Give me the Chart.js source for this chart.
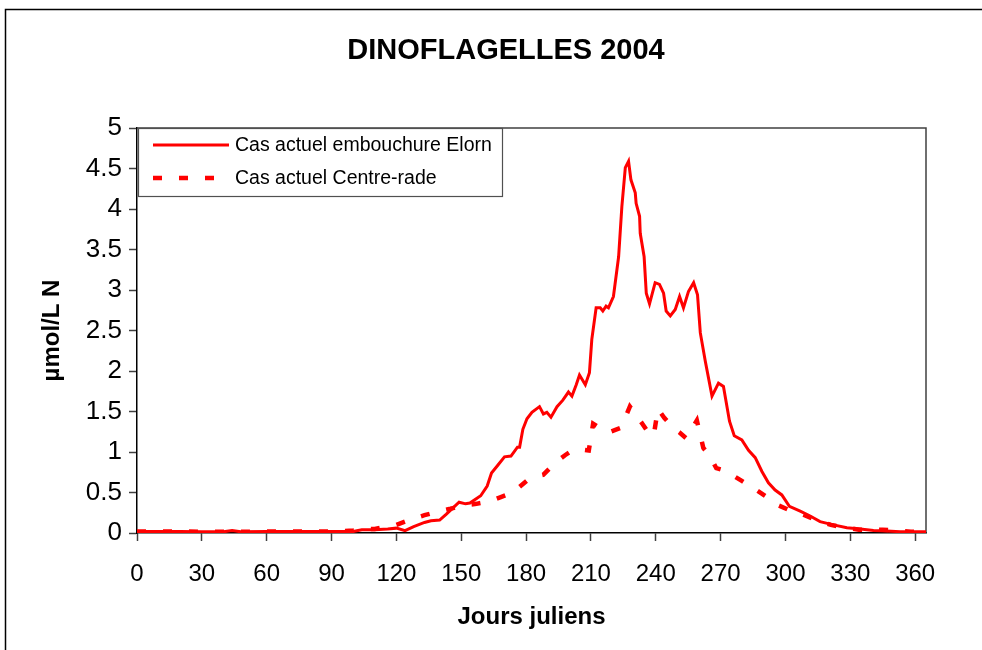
<!DOCTYPE html>
<html>
<head>
<meta charset="utf-8">
<script src="https://cdn.jsdelivr.net/npm/chart.js@4.4.1/dist/chart.umd.min.js"></script>
<style>
  html, body { margin: 0; padding: 0; background: #ffffff; }
  #wrap { position: relative; width: 982px; height: 650px; }
  canvas { display: block; }
</style>
</head>
<body>
<div id="wrap"><canvas id="c" width="982" height="650"></canvas></div>
<script>
// ---- data ----
const chartTitle = "DINOFLAGELLES 2004";
const xAxisTitle = "Jours juliens";
const yAxisTitle = "µmol/L N";
const seriesNames = ["Cas actuel embouchure Elorn", "Cas actuel Centre-rade"];

const elornDays = [0, 10, 20, 30, 40, 44, 48, 60, 70, 80, 90, 100, 104, 110, 116, 120, 124, 128, 133, 136, 140, 143, 149, 152, 154, 159, 162, 164, 167, 170, 173, 176, 177, 178.5, 180.4, 182.7, 186.2, 188, 189.6, 191.5, 194.3, 197, 199.6, 201.2, 203.2, 204.7, 207.4, 209.3, 210.4, 212.4, 214.3, 215.5, 217, 218.1, 220.4, 222.8, 224.3, 225.9, 227.4, 228.5, 230.5, 230.9, 232.5, 232.8, 234.6, 235.6, 237.1, 239.7, 241.7, 243.6, 244.8, 246.7, 249, 251, 252.8, 255.1, 257.5, 259.3, 260.6, 262.9, 266, 269, 271.3, 274.1, 276.3, 279.8, 282.9, 286, 289.1, 292.1, 295.2, 298.3, 301.8, 306.8, 311.4, 316, 322.2, 328.4, 334.6, 340.7, 346.9, 353, 365];
const elornValues = [0.02, 0.02, 0.02, 0.015, 0.015, 0.03, 0.015, 0.02, 0.02, 0.02, 0.02, 0.02, 0.04, 0.04, 0.05, 0.06, 0.03, 0.08, 0.13, 0.15, 0.16, 0.23, 0.38, 0.36, 0.37, 0.46, 0.58, 0.74, 0.84, 0.94, 0.95, 1.06, 1.06, 1.28, 1.41, 1.49, 1.56, 1.47, 1.49, 1.43, 1.56, 1.64, 1.74, 1.69, 1.83, 1.95, 1.83, 1.98, 2.39, 2.78, 2.78, 2.74, 2.80, 2.78, 2.92, 3.41, 4.03, 4.51, 4.59, 4.36, 4.20, 4.07, 3.91, 3.70, 3.41, 2.96, 2.83, 3.09, 3.07, 2.96, 2.74, 2.68, 2.76, 2.92, 2.78, 2.98, 3.09, 2.94, 2.47, 2.12, 1.69, 1.85, 1.81, 1.38, 1.20, 1.15, 1.02, 0.93, 0.76, 0.62, 0.53, 0.47, 0.33, 0.27, 0.21, 0.14, 0.10, 0.065, 0.05, 0.03, 0.025, 0.016, 0.016];

const centreDays = [0, 10, 20, 30, 40, 50, 60, 70, 80, 90, 100, 105, 110, 115, 120, 127, 133, 140, 145, 151, 157, 163, 168, 173, 177, 181, 185, 188, 191, 194, 198, 202, 206, 209, 211, 214, 218, 221, 224, 228, 231, 234, 237, 239, 241, 244, 248, 251, 254, 257, 259, 262, 265, 268, 272, 275, 280, 286, 291, 296, 302, 308, 314, 321, 327, 334, 340, 345, 352, 358, 365];
const centreValues = [0.02, 0.02, 0.02, 0.015, 0.015, 0.015, 0.02, 0.02, 0.02, 0.02, 0.03, 0.05, 0.05, 0.08, 0.10, 0.17, 0.22, 0.27, 0.30, 0.34, 0.36, 0.39, 0.44, 0.49, 0.57, 0.66, 0.70, 0.72, 0.80, 0.88, 0.96, 1.03, 1.03, 1.02, 1.35, 1.30, 1.24, 1.27, 1.30, 1.56, 1.45, 1.34, 1.22, 1.20, 1.53, 1.42, 1.30, 1.24, 1.17, 1.30, 1.39, 1.05, 0.95, 0.80, 0.77, 0.72, 0.64, 0.54, 0.45, 0.35, 0.28, 0.23, 0.16, 0.10, 0.07, 0.04, 0.04, 0.04, 0.03, 0.016, 0.015];

const xTicks = [0, 30, 60, 90, 120, 150, 180, 210, 240, 270, 300, 330, 360];
const yTicks = [0, 0.5, 1, 1.5, 2, 2.5, 3, 3.5, 4, 4.5, 5];

// ---- build chart ----
const FONT = "'Liberation Sans', Arial, sans-serif";
const RED = "#ff0000";

const toPoints = (xs, ys) => xs.map((x, i) => ({ x: x, y: ys[i] }));

const framePlugin = {
  id: 'frame',
  afterLayout(chart) {
    // centre the title block over the chart frame like the reference
    const tb = chart.titleBlock;
    if (tb) { tb.left = 30; tb.right = 982; tb.width = 952; }
  },
  beforeDraw(chart) {
    const ctx = chart.ctx;
    ctx.save();
    ctx.fillStyle = '#ffffff';
    ctx.fillRect(0, 0, chart.width, chart.height);
    ctx.strokeStyle = '#000000';
    ctx.lineWidth = 1.5;
    ctx.beginPath();
    ctx.moveTo(5.5, 700);
    ctx.lineTo(5.5, 9.5);
    ctx.lineTo(1000, 9.5);
    ctx.stroke();
    ctx.restore();
  },
  beforeDatasetsDraw(chart) {
    const a = chart.chartArea;
    const ctx = chart.ctx;
    ctx.save();
    ctx.strokeStyle = '#404040';
    ctx.lineWidth = 1.5;
    ctx.beginPath();
    ctx.moveTo(a.left, a.top);
    ctx.lineTo(a.right, a.top);
    ctx.lineTo(a.right, a.bottom);
    ctx.stroke();
    ctx.restore();
  },
  afterDatasetsDraw(chart) {
    const a = chart.chartArea;
    const ctx = chart.ctx;
    ctx.save();
    const bx = a.left + 1, by = a.top, bw = 364, bh = 68;
    ctx.fillStyle = '#ffffff';
    ctx.fillRect(bx, by, bw, bh);
    ctx.strokeStyle = '#505050';
    ctx.lineWidth = 1.2;
    ctx.strokeRect(bx + 0.5, by + 0.5, bw, bh);
    const ds = chart.data.datasets;
    const rows = [by + 17, by + 50];
    ds.forEach((d, i) => {
      ctx.strokeStyle = d.borderColor;
      ctx.lineWidth = d.borderWidth;
      ctx.lineCap = 'butt';
      ctx.setLineDash(d.borderDash || []);
      ctx.beginPath();
      ctx.moveTo(bx + 15, rows[i]);
      ctx.lineTo(bx + 91, rows[i]);
      ctx.stroke();
      ctx.setLineDash([]);
      ctx.fillStyle = '#000000';
      ctx.font = '19.5px ' + FONT;
      ctx.textBaseline = 'middle';
      ctx.textAlign = 'left';
      ctx.fillText(d.label, bx + 97, rows[i] + 1);
    });
    ctx.restore();
  }
};

new Chart(document.getElementById('c'), {
  type: 'line',
  data: {
    datasets: [
      {
        label: seriesNames[0],
        data: toPoints(elornDays, elornValues),
        borderColor: RED,
        borderWidth: 3,
        pointRadius: 0,
        tension: 0,
        fill: false
      },
      {
        label: seriesNames[1],
        data: toPoints(centreDays, centreValues),
        borderColor: RED,
        borderWidth: 4.5,
        borderDash: [9, 17],
        borderCapStyle: 'butt',
        pointRadius: 0,
        tension: 0,
        fill: false
      }
    ]
  },
  options: {
    responsive: false,
    animation: false,
    devicePixelRatio: 1,
    layout: { padding: { left: 0, right: 56, top: 0, bottom: 0 } },
    plugins: {
      legend: { display: false },
      tooltip: { enabled: false },
      title: {
        display: true,
        text: chartTitle,
        color: '#000000',
        font: { family: FONT, size: 29, weight: 'bold' },
        padding: { top: 34, bottom: 59.2 }
      }
    },
    scales: {
      x: {
        type: 'linear',
        min: 0,
        max: 365,
        afterFit: (s) => { s.height = 117; },
        afterBuildTicks: (s) => { s.ticks = xTicks.map(v => ({ value: v })); },
        ticks: {
          includeBounds: false,
          autoSkip: false,
          maxRotation: 0,
          color: '#000000',
          font: { family: FONT, size: 24 },
          padding: 19,
          callback: (v) => String(v)
        },
        grid: { drawOnChartArea: false, drawTicks: true, tickLength: 8, tickColor: '#404040', tickWidth: 1.5 },
        border: { display: true, color: '#000000', width: 1.5 },
        title: {
          display: true,
          text: xAxisTitle,
          color: '#000000',
          font: { family: FONT, size: 24, weight: 'bold' },
          padding: { top: 0, bottom: 18 }
        }
      },
      y: {
        type: 'linear',
        min: 0,
        max: 5,
        afterFit: (s) => { s.width = 137; },
        afterBuildTicks: (s) => { s.ticks = yTicks.map(v => ({ value: v })); },
        ticks: {
          autoSkip: false,
          color: '#000000',
          font: { family: FONT, size: 26 },
          padding: 7,
          callback: (v) => String(v)
        },
        grid: { drawOnChartArea: false, drawTicks: true, tickLength: 8, tickColor: '#404040', tickWidth: 1.5 },
        border: { display: true, color: '#000000', width: 1.5 },
        title: {
          display: true,
          text: yAxisTitle,
          color: '#000000',
          font: { family: FONT, size: 24, weight: 'bold' },
          padding: { top: 38, bottom: 0 }
        }
      }
    }
  },
  plugins: [framePlugin]
});
</script>
</body>
</html>
